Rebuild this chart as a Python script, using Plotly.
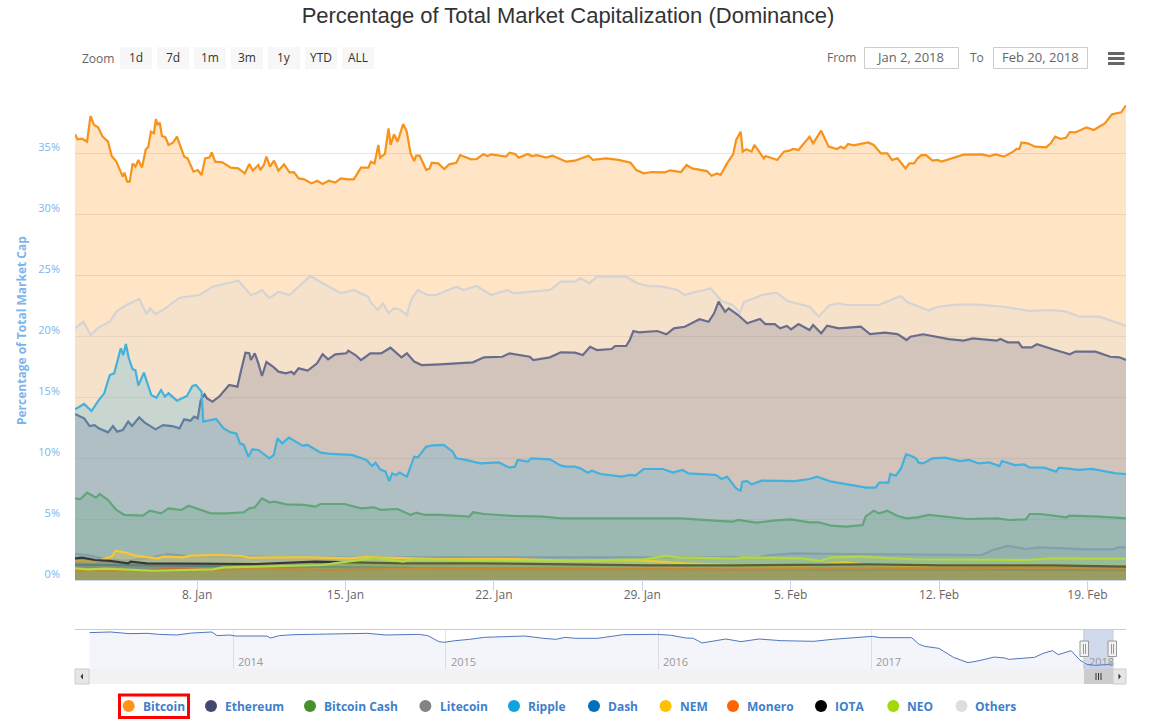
import pandas as pd
import plotly.graph_objects as go

W, H = 1150, 722
BASE = pd.Timestamp("2018-01-01")

btc_days = [2.24,2.36,2.58,2.81,2.97,3.14,3.33,3.54,3.80,3.97,4.19,4.49,4.57,4.70,4.82,4.96,5.09,5.23,5.40,5.58,5.70,5.82,5.96,6.06,6.13,6.24,6.34,6.51,6.65,6.86,7.05,7.26,7.39,7.55,7.83,8.03,8.21,8.38,8.59,8.69,8.85,9.19,9.59,9.94,10.25,10.46,10.63,10.89,10.98,11.15,11.27,11.44,11.63,11.84,12.10,12.36,12.57,12.79,13.05,13.4,13.66,13.92,14.21,14.52,14.78,15.13,15.39,15.73,16.08,16.2,16.37,16.55,16.63,16.86,17.03,17.13,17.29,17.46,17.72,17.89,18.07,18.24,18.33,18.5,18.81,18.97,19.07,19.37,19.66,19.89,20.23,20.41,20.93,21.19,21.5,21.7,21.88,22.57,22.74,23.0,23.17,23.61,23.78,24.04,24.47,24.76,25.16,25.42,25.82,26.46,26.68,27.29,27.89,28.45,28.72,29.07,29.45,30.06,30.31,30.83,31.09,31.35,32.05,32.27,32.53,32.70,33.0,33.29,33.43,33.64,33.74,33.91,34.16,34.29,34.73,34.81,35.37,35.68,35.94,36.11,36.37,36.89,37.06,37.44,37.79,38.19,38.36,38.53,38.71,38.97,39.66,39.92,40.26,40.56,40.78,41.04,41.42,41.6,41.82,41.99,42.17,42.39,42.69,42.94,43.12,43.81,44.16,45.02,45.37,45.68,46.06,46.49,46.66,46.79,46.89,47.18,47.53,48.05,48.27,48.48,48.74,49.0,49.17,49.43,49.95,50.3,50.82,51.16,51.6,51.82]
btc_vals = [36.53,36.12,36.17,35.93,38.03,37.29,37.1,36.34,35.93,34.75,34.29,33.06,33.39,32.65,32.65,34.15,33.88,34.43,33.8,35.3,35.52,36.75,36.61,37.79,37.29,37.49,36.39,36.28,35.66,35.85,36.34,35.38,34.7,34.56,33.47,33.6,33.2,34.56,34.64,35.05,34.29,34.23,33.8,33.74,33.33,34.1,33.55,34.02,33.6,34.02,34.7,33.88,34.37,33.55,34.07,33.41,33.44,32.92,32.84,32.51,32.73,32.46,32.73,32.57,32.92,32.84,32.84,33.8,33.8,34.29,34.15,35.66,34.62,34.92,37.02,35.66,36.53,35.93,37.38,36.75,34.97,34.34,34.78,34.78,33.6,33.74,34.2,34.15,33.69,34.07,34.2,34.83,34.48,34.51,34.89,34.75,34.89,34.7,35.03,34.92,34.62,34.92,34.75,34.83,34.62,34.78,34.48,34.29,34.37,34.78,34.43,34.56,34.43,34.2,33.6,33.33,33.44,33.41,33.58,33.44,34.02,33.74,33.52,33.14,33.33,33.2,34.15,34.92,36.07,36.75,35.11,35.3,35.11,35.66,34.56,34.75,34.43,35.11,35.19,35.33,35.25,36.34,35.79,36.83,35.52,35.33,35.52,35.38,35.74,35.63,35.87,35.66,34.97,34.97,34.43,34.56,33.74,34.15,34.15,34.56,34.83,34.83,34.37,34.43,34.29,34.64,34.86,34.89,34.75,34.89,34.7,35.11,35.33,35.33,35.87,35.79,35.52,35.46,35.79,36.34,36.15,36.26,36.72,36.69,37.1,36.88,37.43,38.17,38.33,38.91]

eth_days = [2.24,2.67,2.93,3.16,3.36,3.8,4.03,4.23,4.49,4.75,4.93,5.27,5.53,6.04,6.39,6.82,7.17,7.39,7.69,7.86,8.03,8.17,8.35,8.47,8.73,9.07,9.51,9.9,10.08,10.28,10.46,10.54,10.72,10.89,11.06,11.27,11.58,11.84,12.19,12.45,12.57,12.79,13.22,13.66,13.92,14.18,14.52,15.04,15.13,15.47,15.73,16.17,16.68,17.12,17.64,17.9,18.24,18.59,19.45,20.15,21.01,21.53,22.4,22.74,23.69,23.86,24.64,25.16,25.82,26.2,26.54,26.86,27.55,27.72,28.24,28.41,28.58,28.84,29.71,30.14,30.49,31.01,31.7,32.13,32.39,32.6,32.91,33.08,33.52,33.95,34.55,34.81,35.25,35.5,35.82,36.02,36.37,36.89,37.06,37.44,37.72,38.27,39.31,39.74,40.44,41.04,41.47,41.65,42.25,43.46,44.16,44.59,45.72,45.89,46.24,46.75,46.92,47.36,47.62,48.48,49.17,49.43,50.38,51.08,51.51,51.82]
eth_vals = [13.6,13.25,12.62,12.7,12.43,12.1,12.62,12.16,12.29,12.98,12.62,13.33,12.9,12.35,12.7,12.62,12.43,13.17,13.06,13.39,13.25,14.75,15.22,14.89,14.62,15.08,15.98,15.85,17.21,18.63,18.58,18.03,18.58,17.76,16.72,17.87,17.49,17.08,16.94,17.08,16.88,17.35,17.16,17.76,18.5,18.09,18.5,18.58,18.8,18.44,18.03,18.58,18.58,19.04,18.25,18.58,17.9,17.62,17.68,17.76,17.84,18.25,18.3,18.58,18.3,18.03,18.25,18.66,18.63,18.44,19.12,18.85,18.93,19.18,19.18,19.67,20.41,20.3,20.41,20.14,20.63,20.76,21.37,21.17,21.86,22.81,21.99,22.27,21.72,21.04,21.39,20.98,20.98,20.63,20.82,20.55,20.98,20.49,20.9,20.22,20.85,20.63,20.76,20.16,20.27,20.16,19.67,19.94,20.14,19.75,19.62,19.81,19.62,19.75,19.48,19.48,19.07,19.07,19.32,18.85,18.5,18.72,18.72,18.3,18.25,18.03]

bch_days = [2.24,2.5,2.81,3.23,3.4,3.8,4.19,4.57,5.44,5.78,6.3,6.65,7.26,7.6,8.64,9.42,10.2,10.46,10.72,11.06,11.41,11.67,12.19,13.05,13.57,13.83,14.96,15.73,16.34,16.68,17.46,18.07,18.33,18.76,19.45,20.84,21.01,21.53,22.91,24.3,25.16,25.82,26.68,28.41,30.83,32.39,33.26,33.52,34.38,35.16,36.02,36.89,37.32,37.93,38.62,39.4,39.53,39.92,40.18,40.56,41.04,41.47,41.99,42.51,43.64,44.33,45.72,46.32,47.1,47.27,47.79,49.0,49.17,50.56,51.82]
bch_vals = [6.69,6.64,7.16,6.75,7.05,6.56,5.74,5.33,5.27,5.68,5.46,5.87,5.74,6.09,5.46,5.46,5.55,5.87,5.96,6.69,6.37,6.42,6.2,6.15,6.01,6.23,6.23,5.87,5.96,5.74,5.82,5.33,5.52,5.33,5.33,5.19,5.55,5.41,5.25,5.19,5.05,5.05,5.05,5.0,5.05,4.86,4.78,4.92,4.7,4.86,4.97,4.73,4.73,4.45,4.37,4.51,5.19,5.68,5.46,5.68,5.25,5.05,5.14,5.33,5.11,5.0,5.05,4.92,4.97,5.41,5.41,5.14,5.27,5.19,5.05]

ltc_days = [2.24,2.84,3.53,4.57,5.61,6.65,7.52,9.07,10.46,12.53,15.3,19.45,25.82,27.55,34.47,34.99,36.2,38.62,45.02,45.54,46.24,47.1,47.71,50.04,51.25,51.42,51.82]
ltc_vals = [2.13,2.05,1.77,1.58,1.77,2.13,1.97,1.97,1.91,1.86,1.83,1.86,1.86,1.86,1.86,2.05,2.19,2.13,2.05,2.46,2.79,2.54,2.68,2.51,2.51,2.68,2.68]

xrp_days = [2.24,2.67,3.02,3.36,3.62,3.88,4.09,4.23,4.4,4.52,4.64,4.78,4.96,5.09,5.23,5.49,5.84,6.08,6.3,6.48,6.65,7.05,7.52,7.78,7.95,8.21,8.29,8.9,9.25,9.59,9.85,10.02,10.2,10.42,10.6,10.89,11.41,11.62,11.79,12.01,12.33,12.97,13.22,13.83,14.35,15.3,15.99,16.25,16.42,16.63,16.89,17.07,17.2,17.38,17.55,17.9,18.24,18.42,18.8,19.11,19.63,20.06,20.23,20.67,21.36,22.23,22.74,23.0,23.12,23.61,23.75,24.64,25.16,25.42,25.82,26.08,26.43,26.63,27.03,28.03,28.41,28.67,29.07,29.97,30.45,30.89,31.18,32.48,32.74,33.0,33.43,33.64,33.72,33.95,34.17,34.64,36.2,36.89,37.24,37.93,38.62,39.57,40.0,40.18,40.61,40.7,40.96,41.21,41.44,41.7,41.91,42.04,42.25,42.69,43.29,43.98,44.42,44.85,45.37,45.85,45.97,46.58,47.01,47.27,47.96,48.52,48.66,49.61,50.21,51.34,51.82]
xrp_vals = [14.0,14.43,13.85,14.75,15.3,16.8,16.94,17.9,18.99,18.44,19.34,18.17,17.27,17.21,15.93,17.0,15.16,14.94,15.57,15.03,15.3,14.7,15.08,15.9,15.98,15.44,12.98,13.2,12.43,12.1,12.02,11.2,11.07,10.11,10.71,10.66,9.97,10.25,11.61,11.2,11.67,11.01,11.07,10.44,10.33,10.25,9.84,9.34,9.62,9.07,8.88,8.11,8.74,8.6,8.8,8.47,10.11,10.05,10.93,11.04,11.07,10.52,9.97,9.84,9.56,9.64,9.21,9.29,9.84,9.7,9.97,9.89,9.37,9.29,9.29,9.15,8.8,8.96,8.69,8.47,8.61,8.55,9.1,9.1,8.8,9.02,8.74,8.61,8.28,8.47,7.51,7.32,8.06,8.11,7.84,8.14,8.11,8.28,8.47,8.06,7.87,7.57,7.57,7.98,7.98,8.69,8.55,9.15,10.3,10.16,9.97,9.62,9.56,9.97,10.03,9.75,9.84,9.56,9.64,9.34,9.75,9.42,9.48,9.23,9.21,8.88,9.21,9.02,9.1,8.74,8.69]

dash_days = [2.24,6.0,10.0,15.0,20.0,26.0,33.0,40.0,51.82]
dash_vals = [1.25,1.2,1.1,1.05,0.95,0.9,0.85,0.85,0.8]

nem_days = [2.24,3.19,3.71,3.97,4.14,4.57,5.09,6.13,6.39,7.34,7.69,9.07,10.11,10.46,11.67,13.4,15.13,15.99,19.45,22.91,25.82,27.89,29.1,31.0,33.26,36.54,37.93,38.62,39.66,43.12,51.82]
nem_vals = [1.56,1.5,1.77,1.91,2.4,2.27,2.0,1.77,1.91,1.86,2.0,2.05,1.97,1.83,1.86,1.86,1.77,1.88,1.72,1.72,1.56,1.64,1.58,1.37,1.23,1.17,1.37,1.45,1.23,1.09,1.04]

xmr_days = [2.24,4.75,7.17,9.07,10.8,14.26,19.45,25.82,29.28,33.26,36.54,39.66,44.85,51.82]
xmr_vals = [0.76,0.76,0.93,0.82,0.93,0.82,0.98,0.93,0.93,0.87,0.93,0.93,0.98,1.01]

iota_days = [2.24,2.58,3.19,3.88,4.75,4.87,5.61,6.48,8.21,9.07,10.8,13.57,15.13,15.99,17.72,21.18,24.64,25.82,29.28,33.26,36.2,39.66,43.12,48.31,51.82]
iota_vals = [1.77,1.83,1.64,1.56,1.37,1.5,1.37,1.37,1.37,1.37,1.31,1.5,1.45,1.42,1.37,1.37,1.28,1.23,1.2,1.2,1.23,1.28,1.2,1.2,1.09]

neo_days = [2.24,2.84,3.71,4.57,5.96,7.34,8.73,9.25,10.8,12.53,13.92,14.78,15.47,16.34,17.72,18.16,22.91,25.82,27.55,29.1,30.14,30.66,33.43,33.69,36.54,37.41,37.93,39.31,41.73,44.85,47.1,48.31,51.82]
neo_vals = [0.96,0.87,0.93,0.87,0.76,0.82,0.87,1.04,1.09,1.17,1.23,1.45,1.58,1.83,1.5,1.7,1.58,1.58,1.64,1.7,1.97,1.86,1.75,1.86,1.77,1.56,1.86,1.91,1.7,1.7,1.64,1.77,1.75]

oth_days = [2.24,2.64,2.98,3.36,3.88,4.19,4.66,5.13,5.27,5.49,5.61,5.78,6.04,6.39,6.82,7.17,8.12,8.73,9.94,10.2,10.54,10.8,11.06,11.41,11.84,12.36,13.35,13.92,14.78,15.39,16.08,16.17,16.51,16.77,17.03,17.29,17.55,17.9,18.07,18.16,18.42,18.85,19.28,20.23,20.58,21.18,21.88,22.65,22.91,23.78,24.64,25.16,25.82,26.08,26.51,26.86,27.55,28.24,28.76,29.28,29.97,30.66,31.0,31.35,32.23,32.66,32.74,33.26,33.6,33.81,34.29,34.64,35.33,35.85,36.37,36.89,37.32,37.84,38.27,38.62,39.31,40.18,40.52,41.21,41.47,42.08,42.51,42.94,43.81,44.85,46.06,47.27,48.31,49.0,49.61,50.56,51.25,51.82]
oth_vals = [20.63,21.17,20.08,20.71,21.17,22.0,22.54,22.87,23.03,22.27,21.8,22.27,21.8,22.13,22.68,23.14,23.36,24.04,24.54,24.04,23.36,23.5,23.77,23.09,23.63,23.36,24.92,24.32,23.5,23.77,23.22,22.81,22.13,22.68,21.86,22.27,22.18,21.72,22.81,23.14,23.77,23.36,23.36,24.04,23.77,24.1,23.36,23.77,23.5,23.63,23.77,24.45,24.45,24.73,24.32,24.86,24.86,24.86,24.32,24.1,24.04,23.77,23.36,23.55,23.9,23.09,22.87,22.54,21.91,22.81,23.09,23.36,23.55,22.87,22.62,22.4,21.58,22.54,22.68,22.54,22.54,22.54,22.81,23.28,22.81,22.4,22.08,22.4,22.57,22.57,22.4,22.05,22.13,22.0,21.58,21.58,21.17,20.82]

series_names = ["Bitcoin","Ethereum","Bitcoin Cash","Litecoin","Ripple","Dash","NEM","Monero","IOTA","NEO","Others"]
series_colors = ["#ff9419","#434873","#46902e","#838383","#0fa3df","#0072bb","#ffc000","#ff6600","#000000","#a4d80a","#dddddd"]
line_colors = ["#f7931a","#434873","#46902e","#838383","#0fa3df","#0072bb","#ffc000","#ff6600","#000000","#a4d80a","#d4d4d4"]
series_days = [btc_days,eth_days,bch_days,ltc_days,xrp_days,dash_days,nem_days,xmr_days,iota_days,neo_days,oth_days]
series_vals = [btc_vals,eth_vals,bch_vals,ltc_vals,xrp_vals,dash_vals,nem_vals,xmr_vals,iota_vals,neo_vals,oth_vals]

nav_dates = ["2013-04-29","2013-06-04","2013-07-06","2013-08-06","2013-08-26","2013-09-26","2013-10-21","2013-11-25","2013-12-04","2013-12-17","2013-12-26","2014-01-05","2014-02-12","2014-02-27","2014-03-06","2014-03-21","2014-04-15","2014-05-17","2014-06-17","2014-07-19","2014-08-19","2014-09-20","2014-11-15","2014-12-01","2014-12-20","2014-12-29","2015-01-17","2015-02-11","2015-03-08","2015-03-27","2015-05-17","2015-06-17","2015-07-09","2015-07-25","2015-08-12","2015-09-19","2015-11-02","2015-12-29","2016-01-23","2016-02-17","2016-03-01","2016-03-16","2016-04-04","2016-04-26","2016-05-22","2016-06-22","2016-07-30","2016-09-24","2016-10-26","2016-12-09","2017-01-03","2017-01-16","2017-03-11","2017-03-24","2017-04-02","2017-04-27","2017-05-22","2017-06-16","2017-07-05","2017-07-31","2017-08-18","2017-08-25","2017-10-08","2017-10-23","2017-11-08","2017-11-18","2017-12-10","2017-12-25","2018-01-06","2018-01-22","2018-02-19"]
nav_vals = [93.8,95.0,91.9,92.5,90.6,89.4,93.0,95.0,88.2,88.2,89.4,87.5,88.2,87.5,83.8,88.2,90.0,90.6,90.6,91.9,92.5,89.4,90.6,88.2,77.0,75.7,78.8,81.3,85.0,85.7,87.5,83.2,81.3,85.0,83.2,83.2,90.0,90.6,88.8,83.8,83.2,74.5,78.2,81.9,77.0,81.9,78.8,77.6,81.3,85.0,86.9,84.4,84.4,72.0,68.3,64.5,47.7,37.8,41.5,48.3,46.5,44.0,47.7,55.2,60.2,52.7,60.2,42.8,34.7,32.8,35.3]

x_tick_days = [8,15,22,29,36,43,50]
x_tick_text = ["8. Jan","15. Jan","22. Jan","29. Jan","5. Feb","12. Feb","19. Feb"]
y_tick_vals = [0,5,10,15,20,25,30,35,40]
y_tick_text = ["0%","5%","10%","15%","20%","25%","30%","35%",""]
nav_years = ["2014","2015","2016","2017","2018"]
range_buttons = ["1d","7d","1m","3m","1y","YTD","ALL"]
from_text, to_text = "Jan 2, 2018", "Feb 20, 2018"
title_text = "Percentage of Total Market Capitalization (Dominance)"
y_title = "Percentage of Total Market Cap"


def to_dt(days):
    return [BASE + pd.Timedelta(days=d - 1) for d in days]

def px(x):
    return x / W

def py(y):
    return 1 - y / H

def hexa(c, a):
    return f"rgba({int(c[1:3],16)},{int(c[3:5],16)},{int(c[5:7],16)},{a})"

FONT = "Open Sans, sans-serif"
fig = go.Figure()
for name, col, lc, d, v in zip(series_names, series_colors, line_colors, series_days, series_vals):
    fig.add_trace(go.Scatter(x=to_dt(d), y=v, name=name, mode="lines", fill="tozeroy",
                             line=dict(color=lc, width=2.2), fillcolor=hexa(col, 0.25),
                             showlegend=False, xaxis="x", yaxis="y"))
fig.add_trace(go.Scatter(x=nav_dates, y=nav_vals, mode="lines", fill="tozeroy", showlegend=False,
                         line=dict(color="#4f77bd", width=1), fillcolor="rgba(51,92,173,0.06)",
                         xaxis="x2", yaxis="y2", name="Navigator"))

shapes, ann = [], []

def rect(x0, y0, x1, y1, fill=None, line=None, lw=1, **kw):
    shapes.append(dict(type="rect", xref="paper", yref="paper", x0=px(x0), x1=px(x1), y0=py(y0), y1=py(y1),
                       fillcolor=fill or "rgba(0,0,0,0)", line=dict(color=line or "rgba(0,0,0,0)", width=lw if line else 0), layer="above", **kw))

def hline(x0, y0, x1, y1, col, lw=1):
    shapes.append(dict(type="line", xref="paper", yref="paper", x0=px(x0), x1=px(x1), y0=py(y0), y1=py(y1),
                       line=dict(color=col, width=lw), layer="above"))

def tri(points, col):
    path = "M " + " L ".join(f"{px(a):.5f} {py(b):.5f}" for a, b in points) + " Z"
    shapes.append(dict(type="path", xref="paper", yref="paper", path=path, fillcolor=col, line=dict(width=0), layer="above"))

def text(x, y, s, size=12, col="#666666", anchor="center", weight=None, family=FONT, **kw):
    f = dict(size=size, color=col, family=family)
    if weight:
        f["weight"] = weight
    ann.append(dict(x=px(x), y=py(y), xref="paper", yref="paper", text=s, showarrow=False, borderpad=0, borderwidth=0,
                    xanchor=anchor, yanchor="middle", font=f, **kw))

# range selector
text(82, 58, "Zoom", 12, "#666666", "left")
for lab, (a, b) in zip(range_buttons, [(120,152),(157,189),(194,226),(231,263),(268,300),(305,337),(342,374)]):
    rect(a, 47, b, 69, fill="#f7f7f7")
    text((a + b) / 2, 57, lab, 12, "#333333")
text(827, 57, "From", 12, "#666666", "left")
rect(864.5, 47.5, 958.5, 68.5, fill="#ffffff", line="#cccccc")
text(910, 57, from_text, 13, "#666666")
text(970, 57, "To", 12, "#666666", "left")
rect(993.5, 47.5, 1087.5, 68.5, fill="#ffffff", line="#cccccc")
text(1040, 57, to_text, 13, "#666666")
for a, b in [(52, 55), (57, 60), (62, 65)]:
    rect(1108, a, 1124.5, b, fill="#666666")

text(22, 331, y_title, 12, "#7cb5ec", weight=700, textangle=-90)

# navigator chrome
hline(75, 629.5, 1126, 629.5, "#cccccc")
for lab, d in zip(nav_years, nav_years):
    ann.append(dict(x=f"{d}-01-01", y=py(661), xref="x2", yref="paper", text=lab, showarrow=False, xanchor="left",
                    xshift=3, yanchor="middle", font=dict(size=11, color="#999999", family=FONT)))
rect(1084, 630, 1113, 669, fill="rgba(102,133,194,0.3)")
hline(1084, 630, 1084, 669, "#cccccc")
hline(1113, 630, 1113, 669, "#cccccc")
for a in (1080, 1108):
    rect(a, 641, a + 8.5, 656.5, fill="#f2f2f2", line="#999999")
    hline(a + 3.5, 644, a + 3.5, 654, "#999999")
    hline(a + 5.5, 644, a + 5.5, 654, "#999999")
# scrollbar
rect(75, 669, 1126, 684, fill="#f2f2f2")
rect(75, 669, 89, 684, fill="#e6e6e6", line="#cccccc")
tri([(83, 673.5), (83, 679.5), (80.5, 676.5)], "#333333")
rect(1084, 669, 1113, 684, fill="#cccccc")
for a in (1096, 1098.5, 1101):
    hline(a, 673, a, 680, "#333333")
rect(1113, 669, 1126, 684, fill="#e6e6e6", line="#cccccc")
tri([(1118.5, 673.5), (1118.5, 679.5), (1121, 676.5)], "#333333")

# legend
legend_pos = [(128.7,143),(211,224.8),(310,324),(425.4,439.7),(514,528.4),(594,608),(665.6,679.5),(733,747.4),(821,835.4),(893.3,907.2),(961.5,975)]
for name, col, (cx, tx) in zip(series_names, series_colors, legend_pos):
    shapes.append(dict(type="circle", xref="paper", yref="paper", x0=px(cx-6), x1=px(cx+6), y0=py(706+6), y1=py(706-6),
                       fillcolor=col, line=dict(width=0), layer="above"))
    text(tx, 706.5, name, 12, "#3f7fcb", "left", weight=700)
rect(119.5, 695, 188.5, 717.5, line="#ff0000", lw=3)

fig.update_layout(
    width=W, height=H, margin=dict(l=0, r=0, t=0, b=0, autoexpand=False), paper_bgcolor="#ffffff", plot_bgcolor="#ffffff",
    title=dict(text=title_text, x=568 / W, y=py(15), xref="paper", yref="paper", xanchor="center", yanchor="middle",
               font=dict(size=22, color="#333333", family="Liberation Sans, Arial, sans-serif")),
    xaxis=dict(domain=[px(75), px(1126)], anchor="y", range=[to_dt([2.24])[0], to_dt([51.82])[0]],
               tickvals=to_dt(x_tick_days), ticktext=x_tick_text, ticks="outside", ticklen=10, tickcolor="#ccd6eb", tickwidth=1,
               showgrid=False, showline=True, linecolor="#ccd6eb", linewidth=1, zeroline=False, ticklabelstandoff=-6,
               tickfont=dict(size=12, color="#666666", family=FONT)),
    yaxis=dict(domain=[py(580), py(92)], anchor="x", range=[0, 40], tickvals=y_tick_vals, ticktext=y_tick_text,
               gridcolor="#e6e6e6", gridwidth=1, zeroline=False, showline=False, ticks="",
               ticklabelshift=-6, ticklabelstandoff=14,
               tickfont=dict(size=11, color="#7cb5ec", family=FONT)),
    xaxis2=dict(domain=[px(89), px(1113)], anchor="y2", range=["2013-04-28", "2018-02-20"],
                tickvals=[f"{y}-01-01" for y in nav_years], showticklabels=False, ticks="",
                showgrid=True, gridcolor="#e6e6e6", gridwidth=1, zeroline=False, showline=False),
    yaxis2=dict(domain=[py(669), py(630)], anchor="x2", range=[26, 98.7], showticklabels=False, showgrid=False,
                zeroline=False, showline=False, ticks=""),
    shapes=shapes, annotations=ann, hovermode=False,
)
fig.write_html("out.html", config=dict(displayModeBar=False), post_script="document.body.style.margin='0';")
